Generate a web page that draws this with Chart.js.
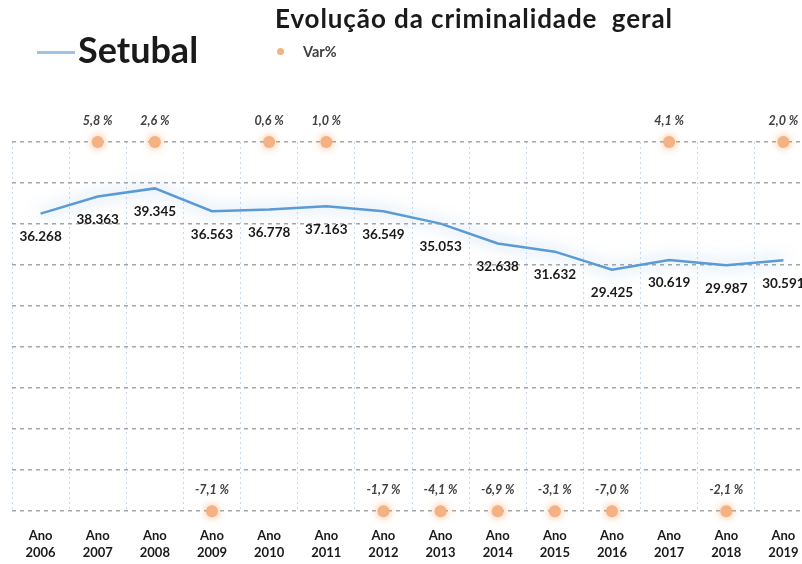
<!DOCTYPE html>
<html>
<head>
<meta charset="utf-8">
<script src="https://cdn.jsdelivr.net/npm/chart.js@4.4.1/dist/chart.umd.min.js"></script>
<style>
  html, body { margin:0; padding:0; background:#fff; width:802px; height:564px; overflow:hidden; }
  #wrap { position:relative; width:802px; height:564px; overflow:hidden; font-family:Lato, "Open Sans", sans-serif; }
  #chartBox { position:absolute; left:0; top:0; width:830px; height:581px; }
  .txt { position:absolute; white-space:pre; color:#1a1a1a; }
  #title { left:275px; top:2px; font-size:26px; font-weight:bold; letter-spacing:0.9px; }
  #setubal { left:78px; top:27px; font-size:36px; font-weight:bold; }
  #legLine { position:absolute; left:37px; top:51px; width:38px; height:3px; background:#9dc3e6; }
  #legDot { position:absolute; left:277px; top:48px; width:7px; height:7px; border-radius:50%; background:#f4b183; }
  #varTxt { left:303px; top:43px; font-size:14.5px; font-weight:bold; color:#404040; }
</style>
</head>
<body>
<div id="wrap">
  <div id="chartBox"><canvas id="chart"></canvas></div>
  <div id="title" class="txt">Evolução da criminalidade  geral</div>
  <div id="legLine"></div>
  <div id="setubal" class="txt">Setubal</div>
  <div id="legDot"></div>
  <div id="varTxt" class="txt">Var%</div>
</div>
<script>
const years   = ['2006','2007','2008','2009','2010','2011','2012','2013','2014','2015','2016','2017','2018','2019'];
const crimes  = [36268, 38363, 39345, 36563, 36778, 37163, 36549, 35053, 32638, 31632, 29425, 30619, 29987, 30591];
const varPct  = [null, 5.8, 2.6, -7.1, 0.6, 1.0, -1.7, -4.1, -6.9, -3.1, -7.0, 4.1, -2.1, 2.0];

// secondary axis pins var% to the top (rise) or bottom (fall) of the plot, like the original
class ClampedScale extends Chart.LinearScale {
  getPixelForValue(v) {
    return super.getPixelForValue(Math.max(this.min, Math.min(this.max, v)));
  }
}
ClampedScale.id = 'clamped';
ClampedScale.defaults = Chart.LinearScale.defaults;
Chart.register(ClampedScale);

function fmtThousands(n) {
  return String(n).replace(/\B(?=(\d{3})+(?!\d))/g, '.');
}
function fmtPct(v) {
  return v.toFixed(1).replace('.', ',') + ' %';
}

const glow = {
  id: 'glow',
  beforeDatasetDraw(chart, args) {
    const ctx = chart.ctx;
    ctx.save();
    if (args.index === 0) {
      ctx.shadowColor = 'rgba(91,155,213,0.7)';
      ctx.shadowBlur = 16;
    } else {
      ctx.shadowColor = 'rgba(244,160,100,0.8)';
      ctx.shadowBlur = 8;
    }
  },
  afterDatasetDraw(chart) {
    chart.ctx.restore();
  }
};

const valueLabels = {
  id: 'valueLabels',
  afterDatasetsDraw(chart) {
    const ctx = chart.ctx;
    ctx.save();
    ctx.textAlign = 'center';
    ctx.textBaseline = 'middle';
    chart.getDatasetMeta(0).data.forEach((pt, i) => {
      ctx.font = 'bold 13.5px Lato, sans-serif';
      ctx.fillStyle = '#1a1a1a';
      ctx.fillText(fmtThousands(crimes[i]), pt.x, pt.y + 23);
    });
    chart.getDatasetMeta(1).data.forEach((pt, i) => {
      if (varPct[i] === null) return;
      ctx.font = 'italic bold 12.5px Lato, sans-serif';
      ctx.fillStyle = '#404040';
      ctx.fillText(fmtPct(varPct[i]), pt.x, pt.y - 21);
    });
    ctx.restore();
  }
};

new Chart(document.getElementById('chart'), {
  type: 'line',
  data: {
    labels: years.map(y => ['Ano', y]),
    datasets: [
      {
        label: 'Setubal',
        data: crimes,
        yAxisID: 'y',
        borderColor: '#5b9bd5',
        borderWidth: 2.5,
        pointRadius: 0,
        tension: 0,
        fill: false
      },
      {
        label: 'Var%',
        data: varPct,
        yAxisID: 'y2',
        showLine: false,
        pointRadius: 6,
        pointBackgroundColor: '#f4b183',
        pointBorderWidth: 0,
        clip: false
      }
    ]
  },
  options: {
    responsive: true,
    maintainAspectRatio: false,
    animation: false,
    layout: { padding: { left: 12, right: 18, top: 142, bottom: 4 } },
    plugins: { legend: { display: false }, title: { display: false }, tooltip: { enabled: false } },
    scales: {
      x: {
        offset: true,
        grid: { offset: true, color: '#c9daf0', lineWidth: 1, drawTicks: false },
        border: { display: false, dash: [2, 3] },
        ticks: {
          padding: 16,
          color: '#1a1a1a',
          font: { family: 'Lato', size: 13, weight: 'bold', lineHeight: 1.3 },
          maxRotation: 0
        }
      },
      y: {
        min: 0, max: 45000,
        ticks: { display: false, stepSize: 5000 },
        grid: { color: '#a6a6a6', lineWidth: 1.5, drawTicks: false },
        border: { display: false, dash: [4, 4] }
      },
      y2: {
        type: 'clamped',
        display: false,
        min: -0.5, max: 0.5
      }
    }
  },
  plugins: [glow, valueLabels]
});
</script>
</body>
</html>
